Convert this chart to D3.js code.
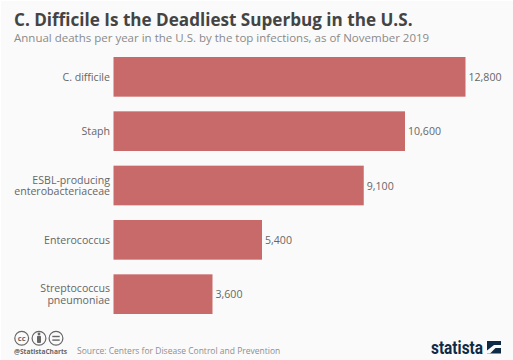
<!DOCTYPE html>
<html>
<head>
<meta charset="utf-8">
<script src="https://cdn.jsdelivr.net/npm/d3@7"></script>
<style>
  html, body { margin: 0; padding: 0; background: #fff; }
  svg { display: block; font-family: "Open Sans", sans-serif; }
</style>
</head>
<body>
<div id="chart"></div>
<script>
const WIDTH = 513;
const HEIGHT = 360;

const categories = ['C. difficile', 'Staph', 'ESBL-producing enterobacteriaceae', 'Enterococcus', 'Streptococcus pneumoniae'];
const categoryLines = [['C. difficile'], ['Staph'], ['ESBL-producing', 'enterobacteriaceae'], ['Enterococcus'], ['Streptococcus', 'pneumoniae']];
const deaths = [12800, 10600, 9100, 5400, 3600];

const svg = d3.select('#chart').append('svg')
  .attr('width', WIDTH)
  .attr('height', HEIGHT);

svg.append('rect')
  .attr('x', 1)
  .attr('y', 1)
  .attr('width', WIDTH - 1)
  .attr('height', HEIGHT - 1)
  .attr('fill', '#fafafa');

svg.append('text')
  .attr('x', 14)
  .attr('y', 26)
  .attr('fill', '#444')
  .style('font-size', '17.1px')
  .style('font-weight', 700)
  .text('C. Difficile Is the Deadliest Superbug in the U.S.');

svg.append('text')
  .attr('x', 14)
  .attr('y', 42)
  .attr('fill', '#8a8a8a')
  .style('font-size', '11.5px')
  .text('Annual deaths per year in the U.S. by the top infections, as of November 2019');

const x = d3.scaleLinear()
  .domain([0, 12800])
  .range([113.5, 465.5]);

const y = d3.scaleBand()
  .domain(categories)
  .range([57, 314])
  .paddingInner(0.27)
  .paddingOuter(0);

svg.selectAll('rect.bar')
  .data(categories)
  .join('rect')
  .attr('class', 'bar')
  .attr('x', x(0))
  .attr('y', d => y(d))
  .attr('width', (d, i) => x(deaths[i]) - x(0))
  .attr('height', y.bandwidth())
  .attr('fill', '#c96a6a');

svg.selectAll('text.value')
  .data(categories)
  .join('text')
  .attr('class', 'value')
  .attr('x', (d, i) => x(deaths[i]) + 3)
  .attr('y', d => y(d) + y.bandwidth() / 2 + 4)
  .attr('fill', '#666')
  .style('font-size', '10.6px')
  .text((d, i) => d3.format(',')(deaths[i]));

const labels = svg.selectAll('text.label')
  .data(categories)
  .join('text')
  .attr('class', 'label')
  .attr('text-anchor', 'end')
  .attr('fill', '#666')
  .style('font-size', '10.6px');

labels.each(function (d, i) {
  const lines = categoryLines[i];
  const mid = y(d) + y.bandwidth() / 2;
  d3.select(this).selectAll('tspan')
    .data(lines)
    .join('tspan')
    .attr('x', x(0) - 3.5)
    .attr('y', (l, j) => mid + 4 + (j - (lines.length - 1) / 2) * 11.7)
    .text(l => l);
});

// licence icons
const icons = svg.append('g')
  .attr('fill', 'none')
  .attr('stroke', '#666')
  .attr('stroke-width', 1.2);

[21.7, 39, 56].forEach(cx => {
  icons.append('circle').attr('cx', cx).attr('cy', 338.3).attr('r', 6.9);
});

svg.append('text')
  .attr('x', 21.7)
  .attr('y', 340.6)
  .attr('text-anchor', 'middle')
  .attr('fill', '#666')
  .style('font-size', '7.5px')
  .style('font-weight', 700)
  .text('cc');

const person = svg.append('g').attr('fill', '#666');
person.append('circle').attr('cx', 39).attr('cy', 333.9).attr('r', 1.4);
person.append('rect').attr('x', 37).attr('y', 335.8).attr('width', 4).attr('height', 7.2).attr('rx', 1);

const equal = svg.append('g').attr('fill', '#666');
equal.append('rect').attr('x', 52.3).attr('y', 335.8).attr('width', 7.4).attr('height', 1.4);
equal.append('rect').attr('x', 52.3).attr('y', 339.4).attr('width', 7.4).attr('height', 1.4);

svg.append('text')
  .attr('x', 14)
  .attr('y', 354)
  .attr('fill', '#666')
  .style('font-size', '6.6px')
  .style('font-weight', 700)
  .text('@StatistaCharts');

svg.append('text')
  .attr('x', 77)
  .attr('y', 354)
  .attr('fill', '#8f8f8f')
  .style('font-size', '8.5px')
  .text('Source: Centers for Disease Control and Prevention');

// statista logo
svg.append('text')
  .attr('x', 431)
  .attr('y', 353.5)
  .attr('fill', '#0f2a46')
  .style('font-family', '"Liberation Sans Narrow", "Roboto", sans-serif')
  .style('font-size', '18px')
  .style('font-weight', 700)
  .attr('textLength', 52)
  .attr('lengthAdjust', 'spacingAndGlyphs')
  .text('statista');

svg.append('rect')
  .attr('x', 487)
  .attr('y', 341)
  .attr('width', 14)
  .attr('height', 12.5)
  .attr('fill', '#0f2a46');

svg.append('path')
  .attr('d', 'M487 350.5 L487 353.5 L490 353.5 L495.5 348 L501 348 L501 345 L494 345 Z')
  .attr('fill', '#fafafa');
</script>
</body>
</html>
